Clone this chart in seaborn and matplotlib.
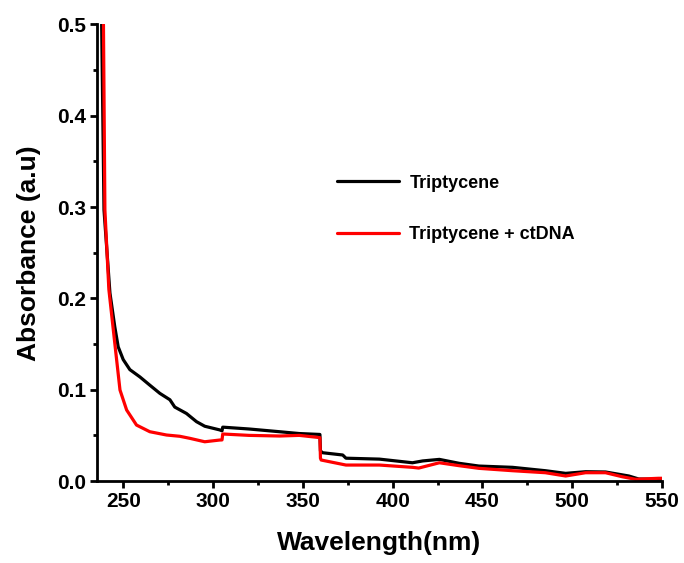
import matplotlib
matplotlib.use("Agg")
import matplotlib.pyplot as plt
from matplotlib.ticker import MultipleLocator, AutoMinorLocator, FormatStrFormatter
import seaborn as sns
import pandas as pd

# UV-Vis absorbance spectra (wavelength in nm, absorbance in a.u.)
wl_trip = [238.0, 239.3, 242.6, 245.3, 247.2, 250.0, 253.7, 259.3, 264.8, 270.4,
           276.0, 278.7, 285.2, 290.8, 295.4, 303.7, 305.0, 305.4, 320.0, 337.0,
           348.0, 359.5, 359.8, 361.0, 372.2, 374.0, 392.6, 411.0, 416.7, 426.0,
           437.0, 448.0, 466.7, 485.0, 496.3, 507.4, 518.5, 531.5, 537.0, 548.0, 550.0]
abs_trip = [0.500, 0.297, 0.206, 0.169, 0.147, 0.133, 0.122, 0.114, 0.105, 0.096,
            0.089, 0.081, 0.074, 0.065, 0.060, 0.056, 0.055, 0.059, 0.057, 0.054,
            0.052, 0.051, 0.033, 0.031, 0.0285, 0.025, 0.024, 0.020, 0.022, 0.0237,
            0.0194, 0.0164, 0.015, 0.0113, 0.0084, 0.0102, 0.0099, 0.0055, 0.0022, 0.002, 0.002]

wl_dna = [239.0, 239.8, 242.0, 245.3, 248.2, 251.9, 257.4, 264.8, 274.1, 281.5,
          287.0, 295.4, 303.7, 305.0, 305.4, 320.0, 337.0, 348.0, 358.3, 359.5,
          359.8, 360.2, 374.0, 392.6, 411.0, 414.5, 426.0, 437.0, 448.0, 466.7,
          485.0, 496.3, 507.4, 518.5, 527.8, 535.2, 548.0, 550.0]
abs_dna = [0.500, 0.297, 0.210, 0.151, 0.0997, 0.0778, 0.0613, 0.054, 0.0504, 0.049,
           0.0468, 0.043, 0.0449, 0.045, 0.0515, 0.050, 0.0493, 0.050, 0.0478, 0.0475,
           0.025, 0.023, 0.0175, 0.0175, 0.015, 0.0142, 0.020, 0.0168, 0.0139, 0.0113,
           0.0091, 0.0055, 0.0091, 0.0091, 0.0047, 0.0019, 0.003, 0.003]

series_names = ["Triptycene", "Triptycene + ctDNA"]
series_colors = ["#000000", "#ff0000"]

df = pd.concat([
    pd.DataFrame({"Wavelength": wl_trip, "Absorbance": abs_trip, "Sample": series_names[0]}),
    pd.DataFrame({"Wavelength": wl_dna, "Absorbance": abs_dna, "Sample": series_names[1]}),
], ignore_index=True)

sns.set_style("ticks")
plt.rcParams["font.family"] = ["Liberation Sans", "DejaVu Sans"]
plt.rcParams["font.weight"] = "bold"
plt.rcParams["text.color"] = "black"
plt.rcParams["axes.labelcolor"] = "black"
plt.rcParams["xtick.color"] = "black"
plt.rcParams["ytick.color"] = "black"

fig = plt.figure(figsize=(6.84, 5.63), dpi=100)
ax = fig.add_axes([0.1418, 0.1456, 0.8262, 0.8109])

sns.lineplot(data=df, x="Wavelength", y="Absorbance", hue="Sample",
             palette=dict(zip(series_names, series_colors)), linewidth=2.3,
             estimator=None, sort=False, ax=ax)

ax.set_xlim(235.4, 550)
ax.set_ylim(0, 0.5)
ax.xaxis.set_major_locator(MultipleLocator(50))
ax.xaxis.set_minor_locator(AutoMinorLocator(2))
ax.yaxis.set_major_locator(MultipleLocator(0.1))
ax.yaxis.set_minor_locator(AutoMinorLocator(2))
ax.xaxis.set_major_formatter(FormatStrFormatter("%d"))
ax.yaxis.set_major_formatter(FormatStrFormatter("%.1f"))

for side in ["top", "right"]:
    ax.spines[side].set_visible(False)
for side in ["left", "bottom"]:
    ax.spines[side].set_linewidth(2.0)
    ax.spines[side].set_color("black")

ax.tick_params(which="major", direction="out", length=5, width=2, labelsize=15,
               colors="black", pad=3)
ax.tick_params(which="minor", direction="out", length=3, width=2, colors="black")
for lbl in ax.get_xticklabels() + ax.get_yticklabels():
    lbl.set_fontweight("bold")

ax.set_xlabel("Wavelength(nm)", fontsize=19, fontweight="bold", labelpad=14,
              color="black")
ax.set_ylabel("Absorbance (a.u)", fontsize=19, fontweight="bold", labelpad=11,
              color="black")

ax.legend(loc="center left", bbox_to_anchor=(0.425, 0.596), frameon=False,
          handlelength=3.4, handletextpad=0.6, labelspacing=1.9,
          borderpad=0, borderaxespad=0, prop={"weight": "bold", "size": 13})

fig.savefig("out.png", dpi=100)
